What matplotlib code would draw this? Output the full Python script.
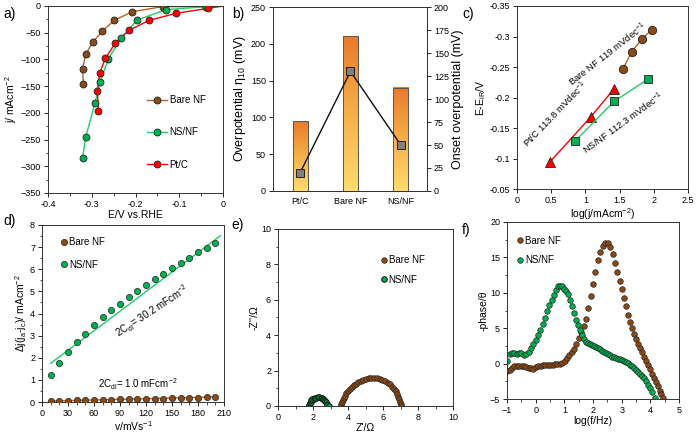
import numpy as np
import matplotlib
matplotlib.use('Agg')
import matplotlib.pyplot as plt
from matplotlib.colors import LinearSegmentedColormap
from matplotlib.ticker import AutoMinorLocator, FuncFormatter

plt.rcParams['font.family'] = ['Liberation Sans', 'DejaVu Sans']
plt.rcParams['mathtext.default'] = 'regular'
plt.rcParams['axes.linewidth'] = 0.7

BROWN = '#8C4A16'
BROWN_LINE = '#B0642A'
GREEN = '#00B050'
GREEN_LINE = '#22CC66'
RED = '#FF0000'

# ---- a) polarization curves
bare_E = [-0.040, -0.138, -0.207, -0.249, -0.276, -0.298, -0.314, -0.321, -0.319]
bare_j = [-1.3, -1.2, -10.6, -26.9, -47.5, -68, -90.7, -118, -146]
nsnf_E = [-0.040, -0.130, -0.196, -0.233, -0.262, -0.281, -0.293, -0.314, -0.321]
nsnf_j = [-1.3, -6.9, -26, -60.6, -98.8, -142, -182.5, -246, -284]
ptc_E = [-0.034, -0.108, -0.169, -0.215, -0.246, -0.269, -0.282, -0.287, -0.285]
ptc_j = [-4.4, -13.8, -26.9, -45.6, -69.4, -97.5, -126, -160, -196]

# ---- b) overpotentials
catalysts = ['Pt/C', 'Bare NF', 'NS/NF']
eta10 = [95, 210, 140]
onset = [20, 130, 50]

# ---- c) Tafel
bare_logj = [1.55, 1.676, 1.832, 1.969]
bare_eta = [-0.247, -0.275, -0.2965, -0.311]
ptc_logj = [0.478, 1.077, 1.413]
ptc_eta = [-0.094, -0.168, -0.2136]
nsnf_logj = [0.853, 1.418, 1.92]
nsnf_eta = [-0.129, -0.1935, -0.2305]

# ---- d) double layer capacitance
scan_rate = [10, 20, 30, 40, 50, 60, 70, 80, 90, 100, 110, 120, 130, 140, 150, 160, 170, 180, 190, 200]
nsnf_dj = [1.20, 1.76, 2.27, 2.69, 3.08, 3.47, 3.82, 4.14, 4.42, 4.74, 5.02, 5.29, 5.56, 5.79,
           6.06, 6.30, 6.53, 6.77, 6.98, 7.19]
bare_dj = [0.03, 0.06, 0.06, 0.07, 0.09, 0.09, 0.10, 0.11, 0.12, 0.12, 0.13, 0.14, 0.15, 0.15,
           0.16, 0.17, 0.18, 0.19, 0.21, 0.22]
nsnf_fit_x = [10, 206]
nsnf_fit_y = [1.75, 7.52]
bare_fit_x = [10, 200]
bare_fit_y = [0.04, 0.23]

# ---- e) Nyquist
nsnf_zre = [1.77, 1.79, 1.82, 1.86, 1.91, 1.97, 2.04, 2.11, 2.19, 2.27, 2.35, 2.43, 2.51, 2.58,
            2.65, 2.71, 2.76, 2.79, 2.81, 2.90]
nsnf_zim = [0.0, 0.08, 0.17, 0.25, 0.32, 0.38, 0.42, 0.45, 0.47, 0.48, 0.48, 0.47, 0.45, 0.41,
            0.36, 0.29, 0.21, 0.12, 0.04, 0.0]
bare_zre = [3.60, 3.62, 3.65, 3.69, 3.75, 3.82, 3.90, 3.99, 4.09, 4.20, 4.32, 4.45, 4.58, 4.72,
            4.87, 5.02, 5.18, 5.34, 5.50, 5.66, 5.82, 5.97, 6.12, 6.26, 6.39, 6.51, 6.62, 6.72,
            6.81, 6.88, 6.94, 6.98, 7.01, 7.03]
bare_zim = [0.0, 0.10, 0.21, 0.33, 0.46, 0.59, 0.71, 0.83, 0.95, 1.06, 1.16, 1.26, 1.34, 1.42,
            1.48, 1.53, 1.56, 1.58, 1.58, 1.56, 1.53, 1.48, 1.41, 1.32, 1.22, 1.10, 0.97, 0.83,
            0.68, 0.53, 0.38, 0.24, 0.11, 0.0]

# ---- f) Bode phase
bare_logf = [-0.99, -0.91, -0.83, -0.74, -0.66, -0.58, -0.49, -0.41, -0.33, -0.24, -0.16, -0.08,
             0.01, 0.09, 0.17, 0.26, 0.34, 0.42, 0.51, 0.59, 0.67, 0.76, 0.84, 0.92, 1.01, 1.09,
             1.17, 1.26, 1.34, 1.42, 1.51, 1.59, 1.67, 1.76, 1.83, 1.92, 2.00, 2.07, 2.16, 2.26,
             2.34, 2.43, 2.52, 2.60, 2.68, 2.77, 2.85, 2.93, 3.00, 3.07, 3.14, 3.22, 3.29, 3.37,
             3.44, 3.51, 3.58, 3.65, 3.72, 3.79, 3.86, 3.93, 4.00, 4.06, 4.12, 4.19, 4.25, 4.32,
             4.38, 4.45]
bare_phase = [-1.1, -0.85, -0.55, -0.35, -0.30, -0.30, -0.35, -0.40, -0.50, -0.60, -0.68, -0.70,
              -0.50, -0.35, -0.28, -0.25, -0.22, -0.20, -0.18, -0.15, -0.12, -0.08, -0.02, 0.15,
              0.40, 0.75, 1.15, 1.60, 2.10, 2.70, 3.55, 4.50, 5.35, 6.35, 7.80, 9.50, 11.3, 13.0,
              14.6, 15.7, 16.55, 17.0, 17.0, 16.5, 15.5, 14.2, 12.9, 11.7, 10.5, 9.3, 8.1, 6.9,
              5.9, 5.0, 4.2, 3.5, 2.8, 2.2, 1.6, 1.0, 0.4, -0.2, -0.8, -1.4, -2.0, -2.6, -3.2,
              -3.8, -4.3, -4.9]
nsnf_logf = [-0.99, -0.91, -0.83, -0.75, -0.66, -0.58, -0.50, -0.41, -0.33, -0.25, -0.17, -0.09,
             0.00, 0.08, 0.16, 0.24, 0.32, 0.40, 0.48, 0.56, 0.64, 0.71, 0.78, 0.85, 0.92, 0.99,
             1.06, 1.13, 1.20, 1.27, 1.34, 1.41, 1.48, 1.55, 1.62, 1.69, 1.76, 1.83, 1.90, 1.97,
             2.04, 2.11, 2.18, 2.25, 2.32, 2.39, 2.46, 2.53, 2.60, 2.67, 2.74, 2.81, 2.88, 2.95,
             3.02, 3.09, 3.16, 3.23, 3.30, 3.37, 3.44, 3.51, 3.58, 3.65, 3.72, 3.79, 3.86, 3.93,
             4.00, 4.07, 4.15]
nsnf_phase = [0.3, 1.3, 1.45, 1.5, 1.4, 1.45, 1.5, 1.15, 1.3, 1.7, 2.2, 2.7, 3.3, 4.0, 4.8, 5.6,
              6.5, 7.4, 8.3, 9.0, 9.7, 10.4, 10.9, 11.0, 10.9, 10.6, 10.3, 9.8, 9.0, 8.1, 7.1, 6.2,
              5.5, 4.8, 4.1, 3.5, 3.1, 2.85, 2.7, 2.6, 2.5, 2.35, 2.15, 2.0, 1.85, 1.65, 1.5, 1.35,
              1.15, 1.0, 0.9, 0.8, 0.7, 0.6, 0.5, 0.35, 0.2, 0.05, -0.15, -0.35, -0.6, -0.85,
              -1.15, -1.45, -1.75, -2.05, -2.45, -2.95, -3.4, -3.95, -4.8]

TICK = 6.5
LAB = 7.5
fmt = FuncFormatter(lambda v, p: '{:g}'.format(round(v, 4)))


def style(ax):
    ax.tick_params(which='major', labelsize=TICK, length=3, width=0.6, direction='out', pad=2)
    ax.tick_params(which='minor', length=1.8, width=0.5, direction='out')
    for s in ax.spines.values():
        s.set_color('#333333')


fig = plt.figure(figsize=(6.98, 4.41), dpi=100)

# a)
ax = fig.add_axes([0.0688, 0.5624, 0.2507, 0.424])
for E, j, fc, lc, lab in [(bare_E, bare_j, BROWN, BROWN_LINE, 'Bare NF'),
                          (nsnf_E, nsnf_j, GREEN, GREEN_LINE, 'NS/NF'),
                          (ptc_E, ptc_j, RED, RED, 'Pt/C')]:
    # curve continues from the first point up to the origin
    ax.plot(np.concatenate([[0.0], E]), np.concatenate([[0.0], j]), color=lc, lw=1.0, zorder=2)
    ax.plot(E, j, 'o', color=lc, mfc=fc, mec='#222222', mew=0.6, ms=5, zorder=3)
    ax.plot([], [], '-o', color=lc, mfc=fc, mec='#222222', mew=0.6, ms=5, lw=1.0, label=lab)
ax.set_xlim(-0.4, 0)
ax.set_ylim(-350, 0)
ax.xaxis.set_major_formatter(fmt)
ax.xaxis.set_minor_locator(AutoMinorLocator(2))
ax.yaxis.set_minor_locator(AutoMinorLocator(2))
ax.set_xlabel('E/V vs.RHE', fontsize=LAB, labelpad=1)
ax.set_ylabel('j/ mAcm$^{-2}$', fontsize=LAB, labelpad=1)
ax.legend(loc='upper left', bbox_to_anchor=(0.54, 0.55), frameon=False, fontsize=7,
          handlelength=2.0, labelspacing=2.3, handletextpad=0.3, borderpad=0)
style(ax)

# b)
ax = fig.add_axes([0.3911, 0.5669, 0.2206, 0.4172])
xb = np.arange(len(catalysts))
bars = ax.bar(xb, eta10, width=0.3, color='none', edgecolor='#555555', lw=0.7, zorder=3)
cmap = LinearSegmentedColormap.from_list('og', ['#FFDB6E', '#F6B048', '#EA7A2C'])
grad = np.linspace(0, 1, 256).reshape(-1, 1)
for b in bars:
    x0, y0, w, h = b.get_x(), b.get_y(), b.get_width(), b.get_height()
    ax.imshow(grad, extent=[x0, x0 + w, y0, y0 + h], origin='lower', cmap=cmap,
              aspect='auto', zorder=2)
ax.set_xlim(-0.54, 2.52)
ax.set_ylim(0, 250)
ax.set_xticks(xb)
ax.set_xticklabels(catalysts)
ax.set_ylabel('Overpotential η$_{10}$ (mV)', fontsize=9, labelpad=2)
style(ax)
ax.tick_params(axis='x', length=0, pad=4)
ax2 = ax.twinx()
ax2.plot(xb, onset, '-s', color='#111111', lw=1.0, mfc='#808080', mec='#222222', mew=0.7, ms=6)
ax2.set_ylim(0, 200)
ax2.set_yticks(np.arange(0, 201, 25))
ax2.set_ylabel('Onset overpotential (mV)', fontsize=9, labelpad=2)
style(ax2)

# c)
ax = fig.add_axes([0.7407, 0.5714, 0.245, 0.415])
ax.plot(bare_logj, bare_eta, '-o', color=BROWN_LINE, mfc=BROWN, mec='#222222', mew=0.6, ms=6, lw=1.0)
ax.plot(ptc_logj, ptc_eta, '-^', color=RED, mfc=RED, mec='#222222', mew=0.6, ms=7, lw=1.0)
ax.plot(nsnf_logj, nsnf_eta, '-s', color=GREEN_LINE, mfc=GREEN, mec='#222222', mew=0.6, ms=6, lw=1.0)
ax.set_xlim(0, 2.5)
ax.set_ylim(-0.05, -0.35)
ax.set_yticks(np.arange(-0.35, -0.04, 0.05))
ax.xaxis.set_major_formatter(fmt)
ax.yaxis.set_major_formatter(fmt)
ax.text(1.32, -0.270, 'Bare NF 119 mVdec$^{-1}$', fontsize=6.8, rotation=38, ha='center', va='center')
ax.text(0.56, -0.172, 'Pt/C 113.8 mVdec$^{-1}$', fontsize=6.8, rotation=46, ha='center', va='center')
ax.text(1.55, -0.158, 'NS/NF 112.3 mVdec$^{-1}$', fontsize=6.8, rotation=36, ha='center', va='center')
ax.set_xlabel('log(j/mAcm$^{-2}$)', fontsize=LAB, labelpad=1)
ax.set_ylabel('E-E$_{iR}$/V', fontsize=LAB, labelpad=1)
style(ax)

# d)
ax = fig.add_axes([0.0602, 0.0884, 0.2607, 0.4014])
ax.plot(nsnf_fit_x, nsnf_fit_y, color=GREEN_LINE, lw=1.0, zorder=2)
ax.plot(bare_fit_x, bare_fit_y, color='#C5601A', lw=1.0, zorder=2)
ax.plot(scan_rate, bare_dj, 'o', mfc=BROWN, mec='#222222', mew=0.5, ms=4.5, label='Bare NF', zorder=3)
ax.plot(scan_rate, nsnf_dj, 'o', mfc=GREEN, mec='#222222', mew=0.5, ms=4.5, label='NS/NF', zorder=3)
ax.set_xlim(0, 210)
ax.set_ylim(0, 8)
ax.set_xticks(np.arange(0, 211, 30))
ax.yaxis.set_minor_locator(AutoMinorLocator(2))
ax.xaxis.set_minor_locator(AutoMinorLocator(3))
ax.text(127, 4.1, '2C$_{dl}$= 30.2 mFcm$^{-2}$', fontsize=7, rotation=33, ha='center', va='center')
ax.text(111, 0.8, '2C$_{dl}$= 1.0 mFcm$^{-2}$', fontsize=7, ha='center', va='center')
ax.set_xlabel('v/mVs$^{-1}$', fontsize=LAB, labelpad=1)
ax.set_ylabel('Δj(j$_a$-j$_c$)/ mAcm$^{-2}$', fontsize=LAB, labelpad=1)
ax.legend(loc='upper left', bbox_to_anchor=(0.08, 0.96), frameon=False, fontsize=7,
          handlelength=0.6, handletextpad=0.2, labelspacing=1.3, borderpad=0)
style(ax)

# e)
ax = fig.add_axes([0.3983, 0.0794, 0.2507, 0.4014])
ax.plot(bare_zre, bare_zim, 'o', mfc=BROWN, mec='#222222', mew=0.5, ms=4, label='Bare NF')
ax.plot(nsnf_zre, nsnf_zim, 'o', mfc=GREEN, mec='#111111', mew=0.7, ms=4, label='NS/NF')
ax.set_xlim(0, 10)
ax.set_ylim(0, 10)
ax.set_xticks(np.arange(0, 11, 2))
ax.set_yticks(np.arange(0, 11, 2))
ax.xaxis.set_minor_locator(AutoMinorLocator(2))
ax.yaxis.set_minor_locator(AutoMinorLocator(2))
ax.set_xlabel("Z'/Ω", fontsize=LAB, labelpad=1)
ax.set_ylabel("-Z''/Ω", fontsize=LAB, labelpad=1)
ax.legend(loc='upper left', bbox_to_anchor=(0.56, 0.88), frameon=False, fontsize=7,
          handlelength=0.6, handletextpad=0.2, labelspacing=1.0, borderpad=0)
style(ax)

# f)
ax = fig.add_axes([0.7264, 0.0952, 0.2464, 0.4014])
ax.plot(bare_logf, bare_phase, 'o', mfc=BROWN, mec='#222222', mew=0.5, ms=4, label='Bare NF')
ax.plot(nsnf_logf, nsnf_phase, 'o', mfc=GREEN, mec='#222222', mew=0.5, ms=4, label='NS/NF')
ax.set_xlim(-1, 5)
ax.set_ylim(-5, 20)
ax.xaxis.set_minor_locator(AutoMinorLocator(2))
ax.yaxis.set_minor_locator(AutoMinorLocator(2))
ax.set_xlabel('log(f/Hz)', fontsize=LAB, labelpad=1)
ax.set_ylabel('-phase/θ', fontsize=LAB, labelpad=1)
ax.legend(loc='upper left', bbox_to_anchor=(0.03, 0.95), frameon=False, fontsize=7,
          handlelength=0.6, handletextpad=0.2, labelspacing=1.0, borderpad=0)
style(ax)

# panel letters
for lbl, x, y in [('a)', 0.005, 0.985), ('b)', 0.332, 0.985), ('c)', 0.662, 0.985),
                  ('d)', 0.005, 0.515), ('e)', 0.332, 0.505), ('f)', 0.662, 0.495)]:
    fig.text(x, y, lbl, fontsize=10, va='top', ha='left')

fig.savefig('out.png', dpi=100)
